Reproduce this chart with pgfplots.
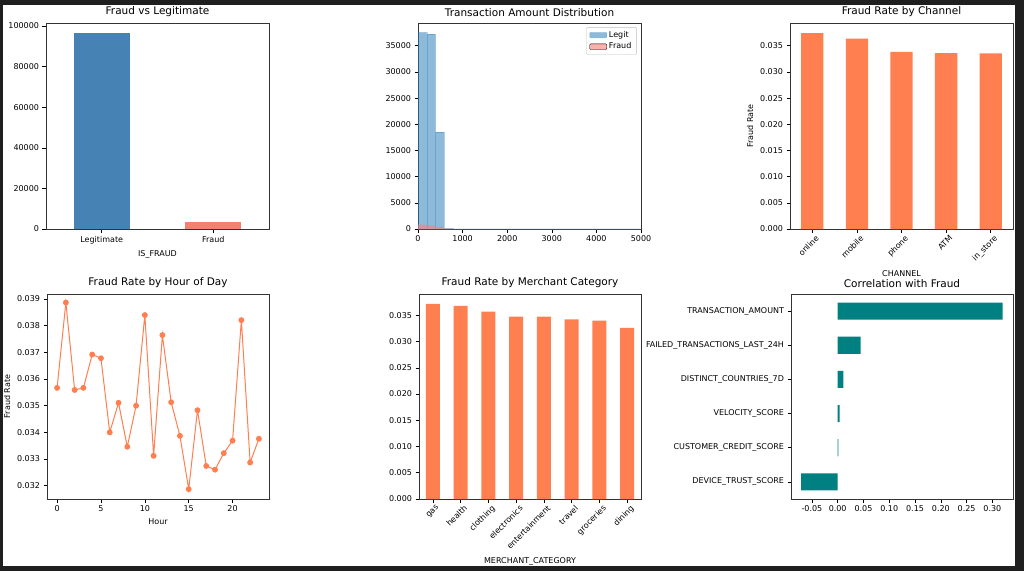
\documentclass[border=0pt]{standalone}
\usepackage{pgfplots}
\pgfplotsset{compat=1.18}
\usepackage{fontspec}
\setmainfont{DejaVu Sans}
\definecolor{steel}{HTML}{4682B4}
\definecolor{lcoral}{HTML}{F4806F}
\definecolor{coral}{HTML}{FF7F50}
\definecolor{teal2}{HTML}{008080}
\definecolor{histblue}{HTML}{1F77B4}
\definecolor{salm}{HTML}{FA8072}
\pgfplotsset{
  base/.style={scale only axis, anchor=north west,
    tick align=outside, major tick length=3.5pt, xtick pos=left, ytick pos=left,
    scaled ticks=false, axis line style={black!80, line width=0.6pt},
    tick style={black, line width=0.6pt},
    ticklabel style={font=\fontsize{8}{9.5}\selectfont},
    label style={font=\fontsize{8}{9.5}\selectfont},
    title style={font=\fontsize{10.5}{12}\selectfont, yshift=-3pt},
    /pgf/number format/assume math mode=true,
    /pgf/number format/fixed,
    /pgf/number format/1000 sep={}},
}
\begin{document}
\begin{tikzpicture}[x=1pt,y=1pt]
\fill[black!88] (0,0) rectangle (1024,-571);
\fill[white] (3,-5) rectangle (1015,-566);
% Panel 1
\begin{axis}[base, at={(46pt,-23pt)}, width=223pt, height=206pt,
  xmin=-0.5, xmax=1.5, ymin=0, ymax=101500, xtick={0,1},
  xticklabels={Legitimate,Fraud}, xlabel={IS\_FRAUD},
  ytick={0,20000,40000,60000,80000,100000},
  title={Fraud vs Legitimate}, ybar, bar width=0.5, bar shift=0pt]
\addplot[fill=steel, draw=none] coordinates {(0,96540)};
\addplot[fill=lcoral, draw=none] coordinates {(1,3620)};
\end{axis}
% Panel 2
\begin{axis}[base, at={(418pt,-23pt)}, width=223pt, height=206pt,
  xmin=0, xmax=5000, ymin=0, ymax=39340, xtick={0,1000,2000,3000,4000,5000},
  ytick={0,5000,10000,15000,20000,25000,30000,35000},
  title={Transaction Amount Distribution},
  legend style={at={(0.98,0.98)}, anchor=north east, font=\fontsize{8}{9.5}\selectfont, draw=black!25, rounded corners=1pt},
  legend cell align=left]
\addplot[ybar interval, fill=histblue, fill opacity=0.5, draw=histblue, draw opacity=0.3, area legend] coordinates {
(0,37500)(195,37200)(390,18500)(585,60)(780,25)(975,10)(1500,5)(2500,3)(5000,3)};
\addlegendentry{Legit}
\addplot[ybar interval, fill=salm, fill opacity=0.6, draw=none, area legend] coordinates {
(0,850)(195,700)(390,400)(585,60)(780,40)(975,30)(1500,25)(2500,20)(5000,20)};
\addlegendentry{Fraud}
\end{axis}
% Panel 3
\begin{axis}[base, at={(790pt,-23pt)}, width=223pt, height=206pt,
  xmin=-0.5, xmax=4.5, ymin=0, ymax=0.03934, xtick={0,...,4},
  xticklabels={online,mobile,phone,ATM,in\_store},
  xticklabel style={rotate=45, anchor=north east, xshift=4pt},
  ytick={0,0.005,0.010,0.015,0.020,0.025,0.030,0.035},
  yticklabel style={/pgf/number format/fixed, /pgf/number format/fixed zerofill, /pgf/number format/precision=3},
  xlabel={CHANNEL}, ylabel={Fraud Rate}, title={Fraud Rate by Channel},
  ybar, bar width=0.5, bar shift=0pt]
\addplot[fill=coral, draw=none] coordinates {(0,0.03743)(1,0.03634)(2,0.03385)(3,0.03359)(4,0.03353)};
\end{axis}
% Panel 4
\begin{axis}[base, at={(47pt,-294pt)}, width=222pt, height=205pt,
  xmin=-1.15, xmax=24.15, ymin=0.0315, ymax=0.03919, xtick={0,5,10,15,20},
  ytick={0.032,0.033,0.034,0.035,0.036,0.037,0.038,0.039},
  yticklabel style={/pgf/number format/fixed, /pgf/number format/fixed zerofill, /pgf/number format/precision=3},
  xlabel={Hour}, ylabel={Fraud Rate}, title={Fraud Rate by Hour of Day}]
\addplot[color=coral, line width=1pt, mark=*, mark size=2.4pt, mark options={fill=coral, draw=coral}] coordinates {
(0,0.03567)(1,0.03887)(2,0.03559)(3,0.03567)(4,0.03692)(5,0.03678)(6,0.03400)(7,0.03511)
(8,0.03346)(9,0.03500)(10,0.03840)(11,0.03312)(12,0.03765)(13,0.03513)(14,0.03387)(15,0.03187)
(16,0.03483)(17,0.03274)(18,0.03260)(19,0.03322)(20,0.03369)(21,0.03821)(22,0.03287)(23,0.03376)};
\end{axis}
% Panel 5
\begin{axis}[base, at={(419pt,-294pt)}, width=222pt, height=205pt,
  xmin=-0.5, xmax=7.5, ymin=0, ymax=0.03906, xtick={0,...,7},
  xticklabels={gas,health,clothing,electronics,entertainment,travel,groceries,dining},
  xticklabel style={rotate=45, anchor=north east, xshift=4pt},
  ytick={0,0.005,0.010,0.015,0.020,0.025,0.030,0.035},
  yticklabel style={/pgf/number format/fixed, /pgf/number format/fixed zerofill, /pgf/number format/precision=3},
  xlabel={MERCHANT\_CATEGORY}, title={Fraud Rate by Merchant Category},
  ybar, bar width=0.5, bar shift=0pt]
\addplot[fill=coral, draw=none] coordinates {(0,0.03716)(1,0.03678)(2,0.0357)(3,0.03475)(4,0.03475)(5,0.03424)(6,0.03399)(7,0.03259)};
\end{axis}
% Panel 6
\begin{axis}[base, at={(791pt,-294pt)}, width=222pt, height=205pt,
  xmin=-0.0905, xmax=0.34, ymin=-0.5, ymax=5.5, ytick={0,...,5},
  yticklabels={DEVICE\_TRUST\_SCORE,CUSTOMER\_CREDIT\_SCORE,VELOCITY\_SCORE,DISTINCT\_COUNTRIES\_7D,FAILED\_TRANSACTIONS\_LAST\_24H,TRANSACTION\_AMOUNT},
  xtick={-0.05,0,0.05,0.10,0.15,0.20,0.25,0.30},
  xticklabel style={/pgf/number format/fixed, /pgf/number format/fixed zerofill, /pgf/number format/precision=2},
  title={Correlation with Fraud}, xbar, bar width=0.5, bar shift=0pt]
\addplot[fill=teal2, draw=none] coordinates {(-0.071,0)(0.0015,1)(0.004,2)(0.011,3)(0.0446,4)(0.32,5)};
\end{axis}
\end{tikzpicture}
\end{document}
